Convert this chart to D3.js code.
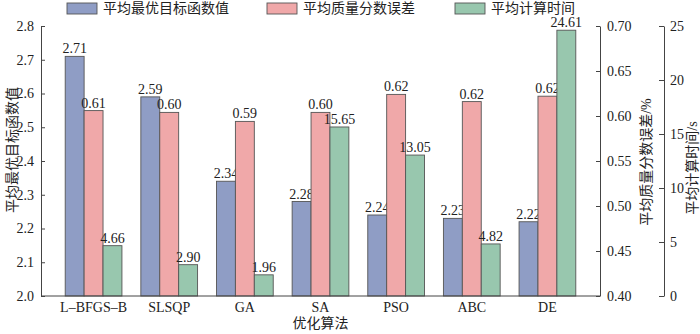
<!DOCTYPE html>
<html><head><meta charset="utf-8">
<script src="https://cdn.jsdelivr.net/npm/d3@7"></script>
<style>
body{margin:0;background:#fff;}
svg text{font-family:"Liberation Serif","Times New Roman",Times,"DejaVu Serif","Noto Sans CJK SC",serif !important;fill:#222;}
</style></head>
<body><svg id="c" width="700" height="334"></svg>
<script>
const categories = ["L\u2013BFGS\u2013B","SLSQP","GA","SA","PSO","ABC","DE"];
const objValues = [2.71, 2.59, 2.34, 2.28, 2.24, 2.23, 2.22];
const errValues = [0.606, 0.604, 0.594, 0.604, 0.624, 0.616, 0.622];
const timeValues = [4.66, 2.90, 1.96, 15.65, 13.05, 4.82, 24.61];
const seriesNames = ["平均最优目标函数值","平均质量分数误差","平均计算时间"];
const leftTicks = [2.0,2.1,2.2,2.3,2.4,2.5,2.6,2.7,2.8];
const errTicks = [0.40,0.45,0.50,0.55,0.60,0.65,0.70];
const timeTicks = [0,5,10,15,20,25];
const colors = ["#8f9dc5","#f0a8a9","#98c7ae"];

const svg = d3.select("#c");
const L = 41, R = 600, T = 26, B = 296, R2 = 664;
const x = d3.scaleBand().domain(categories).range([L,R]).paddingInner(0.25).paddingOuter(0.32);
const xs = d3.scaleBand().domain([0,1,2]).range([0,x.bandwidth()]);
const yL = d3.scaleLinear().domain([2.0,2.8]).range([B,T]);
const yE = d3.scaleLinear().domain([0.40,0.70]).range([B,T]);
const yT = d3.scaleLinear().domain([0,25]).range([B,T]);
const scales = [yL,yE,yT];
const series = [objValues, errValues, timeValues];
const base = [2.0,0.40,0];

series.forEach((vals,si)=>{
  const g = svg.append("g");
  g.selectAll("rect").data(vals).join("rect")
    .attr("x",(d,i)=>x(categories[i])+xs(si))
    .attr("y",d=>scales[si](d))
    .attr("width",xs.bandwidth())
    .attr("height",d=>scales[si](base[si])-scales[si](d))
    .attr("fill",colors[si]).attr("stroke","#555").attr("stroke-width",0.9);
  g.selectAll("text").data(vals).join("text")
    .attr("x",(d,i)=>x(categories[i])+xs(si)+xs.bandwidth()/2)
    .attr("y",d=>scales[si](d)-3)
    .attr("text-anchor","middle").attr("font-size",14)
    .text(d=>d.toFixed(2));
});

function styleAxis(g){
  g.attr("font-family",null);
  g.selectAll("path").attr("stroke","#444");
  g.selectAll("line").attr("stroke","#444");
  g.selectAll("text").attr("font-size",14).attr("fill","#222");
}
const ga = svg.append("g").attr("transform",`translate(${L},0)`)
  .call(d3.axisLeft(yL).tickValues(leftTicks).tickSize(-4).tickSizeOuter(0).tickPadding(7).tickFormat(d3.format(".1f")));
styleAxis(ga);
const gb = svg.append("g").attr("transform",`translate(0,${B})`)
  .call(d3.axisBottom(x).tickSize(0).tickPadding(6));
gb.select("path").attr("d",`M${L},0H${R}`);
styleAxis(gb);
const gr = svg.append("g").attr("transform",`translate(${R},0)`)
  .call(d3.axisRight(yE).tickValues(errTicks).tickSize(-4).tickSizeOuter(0).tickPadding(7).tickFormat(d3.format(".2f")));
styleAxis(gr);
const gr2 = svg.append("g").attr("transform",`translate(${R2},0)`)
  .call(d3.axisRight(yT).tickValues(timeTicks).tickSize(-5).tickSizeOuter(0).tickPadding(6));
styleAxis(gr2);

svg.append("text").attr("transform","translate(17,150) rotate(-90)").attr("text-anchor","middle").attr("font-size",14).text(seriesNames[0]);
svg.append("text").attr("transform","translate(651,162) rotate(-90)").attr("text-anchor","middle").attr("font-size",14).text(seriesNames[1]+"/%");
svg.append("text").attr("transform","translate(697,168) rotate(-90)").attr("text-anchor","middle").attr("font-size",14).text(seriesNames[2]+"/s");
svg.append("text").attr("x",(L+R)/2).attr("y",328).attr("text-anchor","middle").attr("font-size",14).text("优化算法");

const legX = [67,267,455];
seriesNames.forEach((n,i)=>{
  svg.append("rect").attr("x",legX[i]).attr("y",3).attr("width",30).attr("height",11)
    .attr("fill",colors[i]).attr("stroke","#555").attr("stroke-width",0.9);
  svg.append("text").attr("x",legX[i]+36).attr("y",13).attr("font-size",14).text(n);
});
</script></body></html>
